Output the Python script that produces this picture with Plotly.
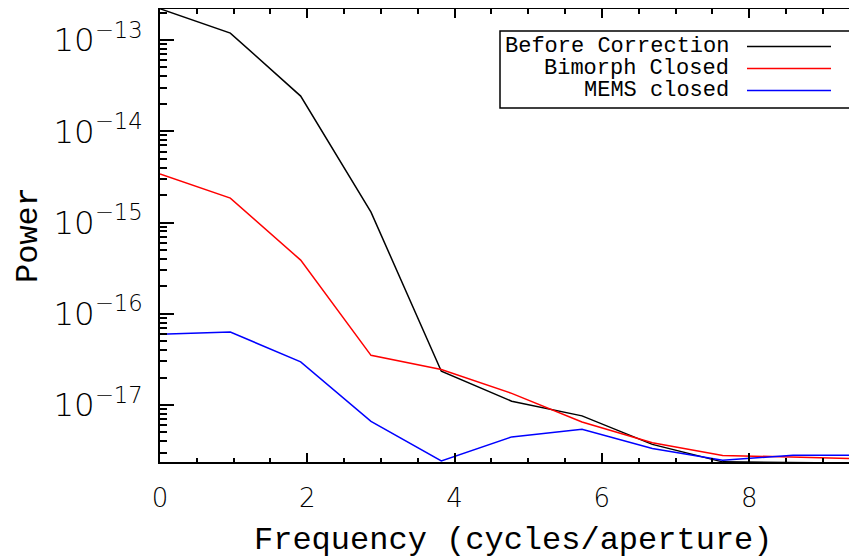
import plotly.graph_objects as go

# ---- data ----
freq = [0.0, 0.955, 1.91, 2.865, 3.82, 4.775, 5.73, 6.685, 7.64, 8.595, 9.55]
before_correction = [2.2e-13, 1.19e-13, 2.43e-14, 1.30e-15, 2.34e-17, 1.10e-17,
                     7.6e-18, 3.7e-18, 2.38e-18, 2.35e-18, 2.3e-18]
bimorph_closed = [3.4e-15, 1.85e-15, 3.87e-16, 3.5e-17, 2.45e-17, 1.34e-17,
                  6.5e-18, 3.85e-18, 2.8e-18, 2.7e-18, 2.57e-18]
mems_closed = [5.97e-17, 6.3e-17, 2.97e-17, 6.6e-18, 2.44e-18, 4.47e-18,
               5.43e-18, 3.33e-18, 2.48e-18, 2.82e-18, 2.82e-18]

series_names = ["Before Correction", "Bimorph Closed", "MEMS closed"]
series_values = [before_correction, bimorph_closed, mems_closed]
series_colors = ["#000000", "#ff0000", "#0000ff"]

x_range = [0, 9.464]
y_range_log = [-17.625, -12.66]

# the page body has an 8px margin, so the figure is drawn 8px in from the window edge
OFF = 8
W, H = 857 - OFF, 559 - OFF
ML, MR, MT, MB = 160 - OFF, 0, 9 - OFF, 559 - 462
PW, PH = W - ML - MR, H - MT - MB

fig = go.Figure()
for name, vals, col in zip(series_names, series_values, series_colors):
    fig.add_trace(go.Scatter(x=freq, y=vals, mode="lines", name=name,
                             line=dict(color=col, width=1.5), showlegend=False))

tick_font = dict(family="DejaVu Sans", size=26, color="black", weight=200)
title_font = dict(family="Liberation Mono", size=32, color="black")

fig.update_layout(
    width=W, height=H,
    margin=dict(l=ML, r=MR, t=MT, b=MB, pad=0),
    paper_bgcolor="white", plot_bgcolor="white",
    showlegend=False,
)

fig.update_xaxes(
    range=x_range, showgrid=False, zeroline=False, automargin=False,
    showline=True, linecolor="black", linewidth=2, mirror="ticks",
    ticks="inside", ticklen=9, tickwidth=1.5, tickcolor="black",
    dtick=2, tick0=0,
    minor=dict(ticks="inside", ticklen=4.5, tickwidth=1.5, tickcolor="black", dtick=0.5, showgrid=False),
    tickfont=tick_font, ticklabelstandoff=12,
)

fig.update_yaxes(
    type="log", range=y_range_log, showgrid=False, zeroline=False, automargin=False,
    showline=True, linecolor="black", linewidth=2,
    ticks="inside", ticklen=14, tickwidth=1.5, tickcolor="black",
    dtick=1, exponentformat="power", showexponent="all",
    minor=dict(ticks="inside", ticklen=7, tickwidth=1.5, tickcolor="black", dtick="D1", showgrid=False),
    tickfont=tick_font, ticklabelstandoff=10,
)

def px_x(p):
    # window pixel -> paper fraction
    return (p - OFF - ML) / PW

def px_y(p):
    return 1 - (p - OFF - MT) / PH

# axis titles
fig.add_annotation(xref="paper", yref="paper", x=px_x(513), y=px_y(540),
                   text="Frequency (cycles/aperture)", showarrow=False,
                   xanchor="center", yanchor="middle", font=title_font)
fig.add_annotation(xref="paper", yref="paper", x=px_x(28), y=px_y(235),
                   text="Power", showarrow=False, textangle=-90,
                   xanchor="center", yanchor="middle", font=title_font)

# ---- custom legend (text on the left, line sample on the right) ----
box = dict(x0=500, x1=851, y0=31, y1=108)
fig.add_shape(type="rect", xref="paper", yref="paper",
              x0=px_x(box["x0"]), x1=px_x(box["x1"]),
              y0=px_y(box["y1"]), y1=px_y(box["y0"]),
              line=dict(color="black", width=1.5), fillcolor="white", layer="above")
rows_y = [46.5, 68.5, 90.5]
for name, col, ry in zip(series_names, series_colors, rows_y):
    fig.add_annotation(xref="paper", yref="paper", x=px_x(731), y=px_y(ry),
                       text=name, showarrow=False, xanchor="right", yanchor="middle",
                       font=dict(family="Liberation Mono", size=22, color="black"))
    fig.add_shape(type="line", xref="paper", yref="paper",
                  x0=px_x(747), x1=px_x(831), y0=px_y(ry), y1=px_y(ry),
                  line=dict(color=col, width=1.5), layer="above")

fig.write_html("out.html")
